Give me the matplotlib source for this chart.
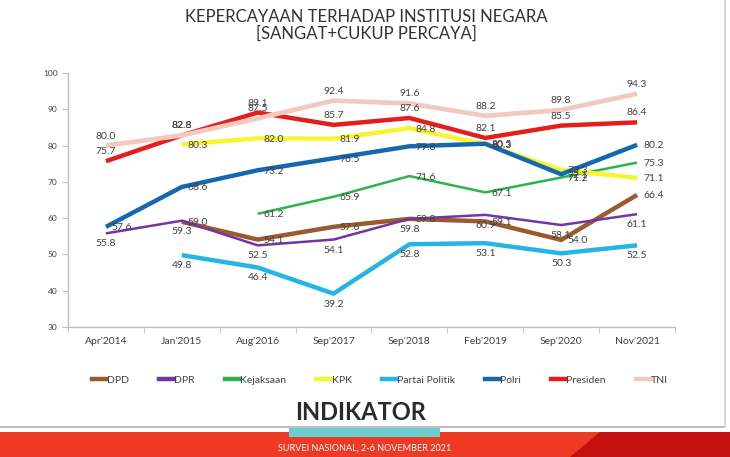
import matplotlib
matplotlib.use("Agg")
import matplotlib.pyplot as plt
import numpy as np
from matplotlib.patches import Rectangle, Polygon
from matplotlib.lines import Line2D

categories = ["Apr'2014", "Jan'2015", "Aug'2016", "Sep'2017", "Sep'2018", "Feb'2019", "Sep'2020", "Nov'2021"]
N = None
dpd = [N, 59.0, 54.1, 57.6, 59.8, 59.1, 54.0, 66.4]
dpr = [55.8, 59.3, 52.5, 54.1, 59.8, 60.9, 58.1, 61.1]
kejaksaan = [N, N, 61.2, 65.9, 71.6, 67.1, 71.2, 75.3]
kpk = [N, 80.3, 82.0, 81.9, 84.8, 80.3, 73.3, 71.1]
partai = [N, 49.8, 46.4, 39.2, 52.8, 53.1, 50.3, 52.5]
polri = [57.6, 68.6, 73.2, 76.5, 79.8, 80.5, 72.1, 80.2]
presiden = [75.7, 82.8, 89.1, 85.7, 87.6, 82.1, 85.5, 86.4]
tni = [80.0, 82.8, 87.5, 92.4, 91.6, 88.2, 89.8, 94.3]

series = [
    ("DPD", dpd, "#9A5B2E", 3.2, "right"),
    ("DPR", dpr, "#7534A6", 1.8, "below"),
    ("Kejaksaan", kejaksaan, "#2EB24C", 1.8, "right"),
    ("KPK", kpk, "#F7F52B", 3.2, "right"),
    ("Partai Politik", partai, "#22B5E6", 3.2, "below"),
    ("Polri", polri, "#1468B0", 3.2, "right"),
    ("Presiden", presiden, "#E41E1E", 3.2, "above"),
    ("TNI", tni, "#F5C8BE", 3.4, "above"),
]

FONT = ["Lato", "DejaVu Sans"]
plt.rcParams["font.family"] = FONT

fig = plt.figure(figsize=(7.30, 4.57), dpi=100)
W, H = 730, 457

ax = fig.add_axes([68 / W, (H - 327) / H, (675 - 68) / W, (327 - 73) / H])
x = np.arange(len(categories))

for name, vals, color, lw, pos in series:
    xs = [xi for xi, v in zip(x, vals) if v is not None]
    ys = [v for v in vals if v is not None]
    ax.plot(xs, ys, color=color, lw=lw, solid_capstyle="butt", solid_joinstyle="miter", label=name)

for name, vals, color, lw, pos in series:
    for xi, v in zip(x, vals):
        if v is None:
            continue
        if pos == "right":
            kw = dict(xytext=(6, -1), ha="left", va="center")
        elif pos == "above":
            kw = dict(xytext=(0, 5), ha="center", va="bottom")
        else:
            kw = dict(xytext=(0, -6), ha="center", va="top")
        ax.annotate(f"{v:.1f}", (xi, v), textcoords="offset pixels",
                    fontsize=7.5, color="#404040", **kw)

ax.set_xlim(-0.5, len(categories) - 0.5)
ax.set_ylim(30, 100)
ax.set_yticks(range(30, 101, 10))
ax.set_xticks(x)
ax.set_xticklabels(categories, fontsize=7.5, color="#404040")
ax.set_xticks(np.arange(-0.5, len(categories), 1), minor=True)
ax.tick_params(axis="x", which="major", length=0, pad=7)
ax.tick_params(axis="x", which="minor", length=4, color="#BFBFBF")
ax.tick_params(axis="y", labelsize=6, colors="#404040", length=4, color="#BFBFBF")
for s in ["top", "right"]:
    ax.spines[s].set_visible(False)
for s in ["left", "bottom"]:
    ax.spines[s].set_color("#BFBFBF")
    ax.spines[s].set_linewidth(1)

# Legend
handles = [Line2D([0], [0], color=c, lw=3.2) for _, _, c, lw, _ in series]
labels = [n for n, *_ in series]
fig.legend(handles, labels, loc="center", bbox_to_anchor=(380 / W, 1 - 380 / H),
           ncol=8, frameon=False, fontsize=7.5, handlelength=1.4, handletextpad=0.05,
           columnspacing=2.9, labelcolor="#404040")

# Title
fig.text(366 / W, 1 - 17 / H, "KEPERCAYAAN TERHADAP INSTITUSI NEGARA", ha="center", va="center",
         fontsize=12, color="#333333")
fig.text(366 / W, 1 - 34 / H, "[SANGAT+CUKUP PERCAYA]", ha="center", va="center",
         fontsize=12, color="#333333")

# Frame lines
fig.add_artist(Line2D([0, 725 / W], [1 - 427 / H, 1 - 427 / H], color="#BFBFBF", lw=1.5,
                      transform=fig.transFigure))
fig.add_artist(Line2D([725 / W, 725 / W], [1 - 427 / H, 1], color="#D9D9D9", lw=1.5,
                      transform=fig.transFigure))

# Bottom banner
fig.add_artist(Rectangle((0, 0), 1, (H - 432) / H, transform=fig.transFigure,
                         facecolor="#EE3A24", edgecolor="none"))
fig.add_artist(Polygon([[570 / W, 0], [600 / W, (H - 432) / H], [1, (H - 432) / H], [1, 0]],
                       closed=True, transform=fig.transFigure, facecolor="#C40F0F", edgecolor="none"))
fig.add_artist(Rectangle((289 / W, (H - 437) / H), (440 - 289) / W, 10 / H, transform=fig.transFigure,
                         facecolor="#6ACFCF", edgecolor="none"))
fig.text(365 / W, 1 - 448 / H, "SURVEI NASIONAL, 2-6 NOVEMBER 2021", ha="center", va="center",
         fontsize=6.5, color="white")
fig.text(361 / W, 1 - 413 / H, "INDIKATOR", ha="center", va="center", fontsize=17,
         fontweight="bold", color="#2B2B2B")

fig.savefig("out.png", dpi=100)
